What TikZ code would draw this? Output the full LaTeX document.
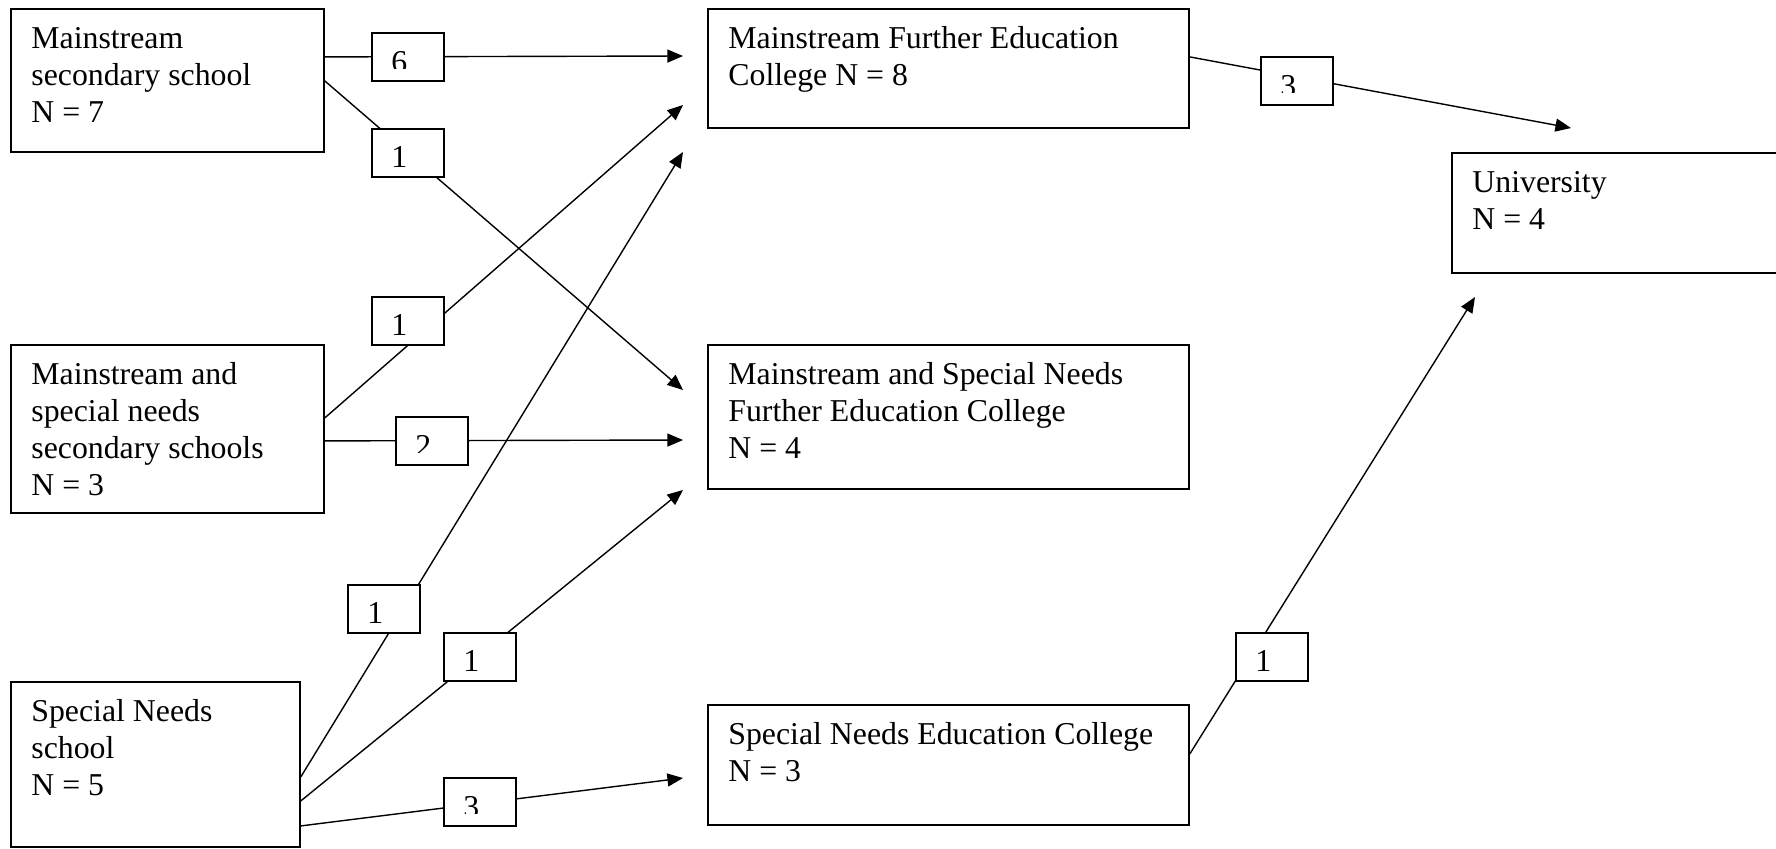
\documentclass[tikz,border=0pt]{standalone}
\usepackage{fontspec}
\setmainfont{Liberation Serif}
\usetikzlibrary{arrows.meta,calc}
\begin{document}
\begin{tikzpicture}[x=0.5pt,y=-0.5pt,
  box/.style={draw, line width=0.9pt, anchor=north west, inner sep=0pt, fill=white},
  lab/.style={draw, line width=0.9pt, anchor=north west, inner sep=0pt, minimum width=36pt, minimum height=24pt, fill=white},
  txt/.style={anchor=base west, inner sep=0pt, font=\fontsize{15.9pt}{18.65pt}\selectfont},
  conn/.style={line width=0.7pt, -{Triangle[length=7.8pt,width=6.5pt]}}]
\useasboundingbox (0,0) rectangle (1776,848);
% main boxes
\node[box, minimum width=156.5pt, minimum height=71.5pt] (A) at (10,8) {};
\node[box, minimum width=156.5pt, minimum height=84pt] (B) at (10,344) {};
\node[box, minimum width=144.5pt, minimum height=82.5pt] (C) at (10,681) {};
\node[box, minimum width=240.5pt, minimum height=59.5pt] (D) at (707,8) {};
\node[box, minimum width=240.5pt, minimum height=72pt] (E) at (707,344) {};
\node[box, minimum width=240.5pt, minimum height=60pt] (F) at (707,704) {};
\node[box, minimum width=174.5pt, minimum height=60pt] (G) at (1451,152) {};
% texts
\node[txt] (At) at ($(A.north west)+(21,40)$) {\begin{tabular}[t]{@{}l@{}}Mainstream\\secondary school\\N = 7\end{tabular}};
\node[txt] (Bt) at ($(B.north west)+(21,40)$) {\begin{tabular}[t]{@{}l@{}}Mainstream and\\special needs\\secondary schools\\N = 3\end{tabular}};
\node[txt] (Ct) at ($(C.north west)+(21,40)$) {\begin{tabular}[t]{@{}l@{}}Special Needs\\school\\N = 5\end{tabular}};
\node[txt] (Dt) at ($(D.north west)+(21,40)$) {\begin{tabular}[t]{@{}l@{}}Mainstream Further Education\\College N = 8\end{tabular}};
\node[txt] (Et) at ($(E.north west)+(21,40)$) {\begin{tabular}[t]{@{}l@{}}Mainstream and Special Needs\\Further Education College\\N = 4\end{tabular}};
\node[txt] (Ft) at ($(F.north west)+(21,40)$) {\begin{tabular}[t]{@{}l@{}}Special Needs Education College\\N = 3\end{tabular}};
\node[txt] (Gt) at ($(G.north west)+(21,40)$) {\begin{tabular}[t]{@{}l@{}}University\\N = 4\end{tabular}};
% arrow tips
\coordinate (tD1) at (683,56);
\coordinate (tE1) at (683,390);
\coordinate (tD2) at (683,105);
\coordinate (tE2) at (683,440);
\coordinate (tD3) at (683,152);
\coordinate (tE3) at (683,490);
\coordinate (tF1) at (683,778);
\coordinate (tG1) at (1571,128);
\coordinate (tG2) at (1475,297);
% connectors
\draw[conn] ([yshift=11.75pt]A.east) -- (tD1);
\draw[conn] ([yshift=-0.25pt]A.east) -- (tE1);
\draw[conn] ([yshift=5.5pt]B.east) -- (tD2);
\draw[conn] ([yshift=-6pt]B.east) -- (tE2);
\draw[conn] ([yshift=-6.25pt]C.east) -- (tD3);
\draw[conn] ([yshift=-18.25pt]C.east) -- (tE3);
\draw[conn] ([yshift=-30.75pt]C.east) -- (tF1);
\draw[conn] ([yshift=5.75pt]D.east) -- (tG1);
\draw[conn] ([yshift=5.5pt]F.east) -- (tG2);
% labels
\node[lab] (l6) at (371,32) {};
\begin{scope}\clip (l6.north west) rectangle ($(l6.north east)+(0,36.5)$);
\node[txt] (n6) at ($(l6.north west)+(20,40)$) {6};
\end{scope}
\node[lab] (l1a) at (371,128) {};
\node[txt] (n1a) at ($(l1a.north west)+(20,39.5)$) {1};
\node[lab] (l1b) at (371,296) {};
\node[txt] (n1b) at ($(l1b.north west)+(20,39.5)$) {1};
\node[lab] (l2) at (395,416) {};
\begin{scope}\clip (l2.north west) rectangle ($(l2.north east)+(0,36.5)$);
\node[txt] (n2) at ($(l2.north west)+(20,40)$) {2};
\end{scope}
\node[lab] (l1c) at (347,584) {};
\node[txt] (n1c) at ($(l1c.north west)+(20,39.5)$) {1};
\node[lab] (l1d) at (443,632) {};
\node[txt] (n1d) at ($(l1d.north west)+(20,39.5)$) {1};
\node[lab] (l3a) at (443,777) {};
\begin{scope}\clip (l3a.north west) rectangle ($(l3a.north east)+(0,36.5)$);
\node[txt] (n3a) at ($(l3a.north west)+(20,40)$) {3};
\end{scope}
\node[lab] (l3b) at (1260,56) {};
\begin{scope}\clip (l3b.north west) rectangle ($(l3b.north east)+(0,36.5)$);
\node[txt] (n3b) at ($(l3b.north west)+(20,40)$) {3};
\end{scope}
\node[lab] (l1e) at (1235,632) {};
\node[txt] (n1e) at ($(l1e.north west)+(20,39.5)$) {1};
\end{tikzpicture}
\end{document}
